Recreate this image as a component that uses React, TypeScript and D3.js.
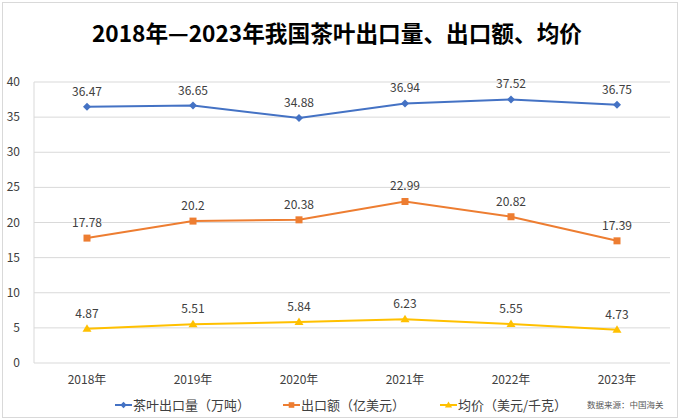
import React from "react";
import * as d3 from "d3";

const categories = ["2018年", "2019年", "2020年", "2021年", "2022年", "2023年"];
const volume = [36.47, 36.65, 34.88, 36.94, 37.52, 36.75];
const amount = [17.78, 20.2, 20.38, 22.99, 20.82, 17.39];
const price = [4.87, 5.51, 5.84, 6.23, 5.55, 4.73];
const yTicks = [0, 5, 10, 15, 20, 25, 30, 35, 40];
const seriesNames = ["茶叶出口量（万吨）", "出口额（亿美元）", "均价（美元/千克）"];
const title = "2018年—2023年我国茶叶出口量、出口额、均价";
const source = "数据来源：中国海关";

const W = 681, H = 420;
const left = 34, right = 670, top = 82, bottom = 363;
const FONT = "'Noto Sans CJK SC', 'Noto Sans', sans-serif";

export default function App() {
  const x = d3.scaleBand().domain(categories).range([left, right]);
  const y = d3.scaleLinear().domain([0, 40]).range([bottom, top]);
  const cx = (c: string) => (x(c) as number) + x.bandwidth() / 2;
  const line = d3.line<number>().x((_, i) => cx(categories[i])).y((d) => y(d));
  const series = [
    { name: seriesNames[0], data: volume, color: "#4472C4", shape: "diamond" },
    { name: seriesNames[1], data: amount, color: "#ED7D31", shape: "square" },
    { name: seriesNames[2], data: price, color: "#FFC000", shape: "triangle" },
  ];
  const marker = (shape: string, px: number, py: number, color: string, key: any, k = 1) => {
    if (shape === "diamond") {
      const s = 4 * k;
      return <path key={key} d={`M${px},${py - s}L${px + s},${py}L${px},${py + s}L${px - s},${py}Z`} fill={color} />;
    }
    if (shape === "square") {
      const s = 3.5 * k;
      return <rect key={key} x={px - s} y={py - s} width={2 * s} height={2 * s} fill={color} />;
    }
    const s = 4.5 * k;
    return <path key={key} d={`M${px},${py - s}L${px + s},${py + s * 0.67}L${px - s},${py + s * 0.67}Z`} fill={color} />;
  };
  const legendX = [115, 283, 440];
  return (
    <svg width={W} height={H} style={{ position: "absolute", left: 0, top: 0, fontFamily: FONT }}>
      <rect x={0} y={0} width={W} height={H} fill="#fff" />
      <rect x={2.5} y={2.5} width={675} height={415} fill="none" stroke="#d9d9d9" />
      <text x={337} y={42} textAnchor="middle" fontSize={23} fontWeight="bold" fill="#000" textLength={490} lengthAdjust="spacingAndGlyphs">{title}</text>
      {yTicks.map((t) => (
        <g key={t}>
          <line x1={left} x2={right} y1={y(t)} y2={y(t)} stroke="#d9d9d9" />
          <text x={20} y={y(t) + 4} textAnchor="end" fontSize={12} fill="#404040">{t}</text>
        </g>
      ))}
      <line x1={left} x2={left} y1={top} y2={bottom} stroke="#d9d9d9" />
      {categories.map((c) => (
        <text key={c} x={cx(c)} y={384} textAnchor="middle" fontSize={12} fill="#404040">{c}</text>
      ))}
      {series.map((s, si) => (
        <g key={si}>
          <path d={line(s.data) as string} fill="none" stroke={s.color} strokeWidth={2} />
          {s.data.map((v, i) => marker(s.shape, cx(categories[i]), y(v), s.color, i))}
          {s.data.map((v, i) => (
            <text key={"t" + i} x={cx(categories[i])} y={y(v) - 11} textAnchor="middle" fontSize={12} fill="#404040">{v}</text>
          ))}
        </g>
      ))}
      {series.map((s, si) => (
        <g key={"l" + si}>
          <line x1={legendX[si]} x2={legendX[si] + 17} y1={405} y2={405} stroke={s.color} strokeWidth={2} />
          {marker(s.shape, legendX[si] + 8.5, 405, s.color, "m", 0.8)}
          <text x={legendX[si] + 18} y={410} fontSize={13} fill="#404040">{s.name}</text>
        </g>
      ))}
      <text x={587} y={408} fontSize={8.5} fill="#595959">{source}</text>
    </svg>
  );
}
